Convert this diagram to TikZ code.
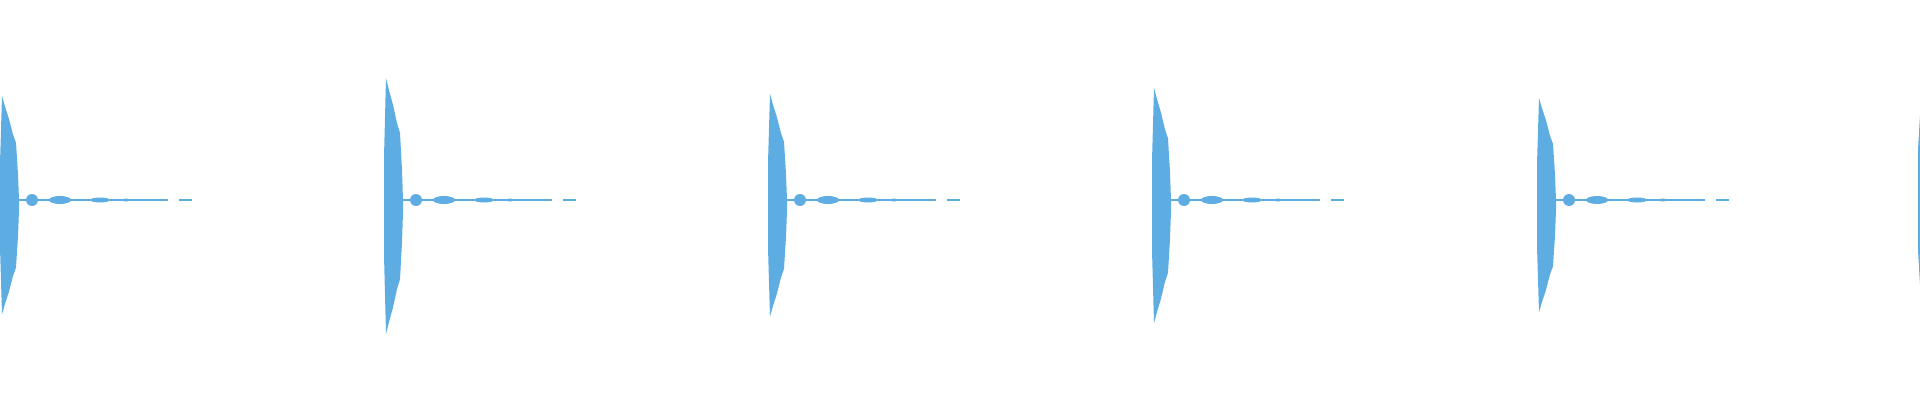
\documentclass[tikz,border=0pt]{standalone}
\definecolor{wavecol}{RGB}{93,173,226}
\begin{document}
\begin{tikzpicture}[x=0.01cm,y=-0.01cm,
    wave/.style={fill=wavecol, draw=none},
    tail/.style={draw=wavecol, line width=0.6pt}
]
    \useasboundingbox (0,0) rectangle (1920,400);

    % Bursts
    \foreach \bx/\bh [count=\i] in {2/104, 386/122, 770/106, 1154/112, 1539/102} {
        \fill[wave] (\bx-2,200)
            -- ++(0,-0.35*\bh) -- ++(2,-0.65*\bh)
            -- ++(3,0.1*\bh) -- ++(4,0.12*\bh) -- ++(4,0.15*\bh)
            -- ++(3,0.08*\bh) -- ++(2,0.3*\bh) -- ++(1,0.25*\bh)
            -- ++(0,0.05*\bh)
            -- ++(0,0.05*\bh) -- ++(-1,0.25*\bh) -- ++(-2,0.3*\bh)
            -- ++(-3,0.08*\bh) -- ++(-4,0.15*\bh) -- ++(-4,0.12*\bh)
            -- ++(-3,0.1*\bh) -- ++(-2,-0.65*\bh) -- cycle;
        % Tail
        \draw[tail] (\bx+17,200) -- (\bx+166,200);
        \draw[tail] (\bx+177,200) -- (\bx+190,200);
        \fill[wave] (\bx+30,200) ellipse [x radius=6, y radius=-6];
        \fill[wave] (\bx+58,200) ellipse [x radius=11, y radius=-4];
        \fill[wave] (\bx+98,200) ellipse [x radius=10, y radius=-2.5];
        \fill[wave] (\bx+124,200) ellipse [x radius=4, y radius=-1.5];
    }
    % Cut burst at right edge
    \fill[wave] (1918,200) -- (1918,150) -- (1920,115) -- (1920,285) -- (1918,250) -- cycle;
\end{tikzpicture}
\end{document}
